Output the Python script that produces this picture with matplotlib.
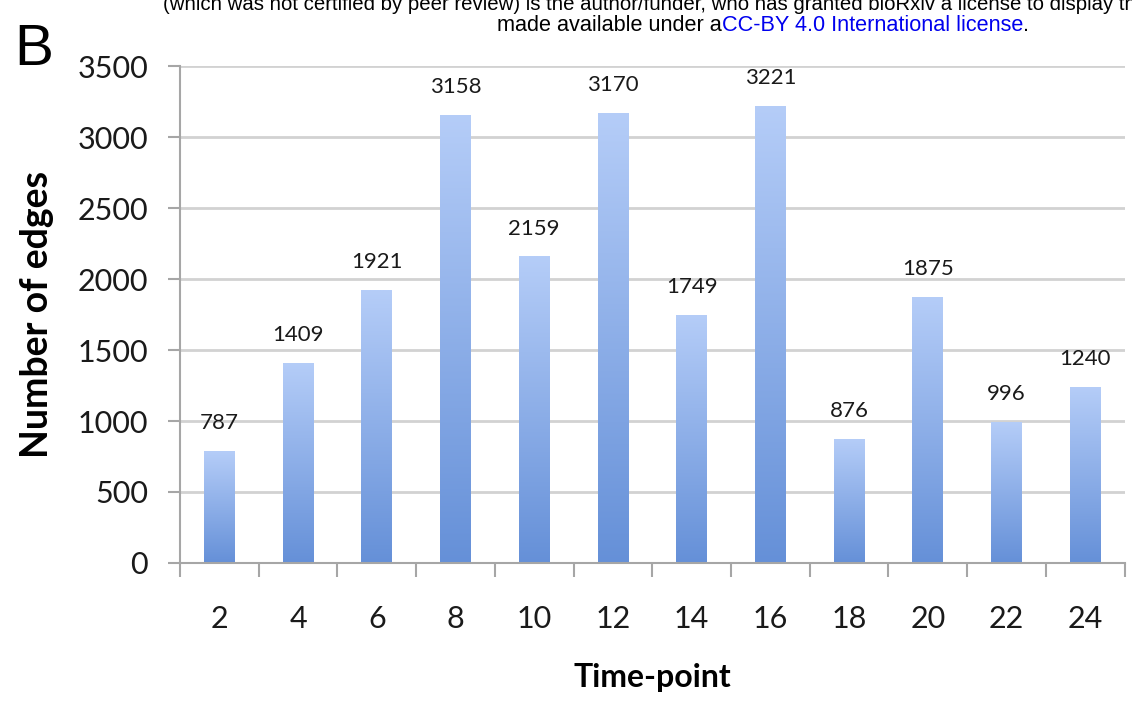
import numpy as np
import matplotlib
matplotlib.use("Agg")
import matplotlib.pyplot as plt
from matplotlib.colors import LinearSegmentedColormap

# --- data ---
time_points = ["2", "4", "6", "8", "10", "12", "14", "16", "18", "20", "22", "24"]
edge_counts = [787, 1409, 1921, 3158, 2159, 3170, 1749, 3221, 876, 1875, 996, 1240]

# vertical fill for each bar: darker at the base, pale at the top
bar_cmap = LinearSegmentedColormap.from_list("edges_blue", ["#6590d8", "#b5cdf8"])
grid_grey = "#d2d2d2"
axis_grey = "#a6a6a6"

LABEL_FONT = ["Lato", "DejaVu Sans"]
HDR_FONT = ["Liberation Sans", "DejaVu Sans"]

fig = plt.figure(figsize=(11.32, 7.18), dpi=100)
ax = fig.add_axes([0.159, 0.2159, 0.8345, 0.6921])

x = np.arange(len(time_points))
bars = ax.bar(x, edge_counts, width=0.39, color="none", edgecolor="none", zorder=2)

gradient = np.linspace(0, 1, 256).reshape(-1, 1)
for rect in bars:
    x0 = rect.get_x()
    x1 = x0 + rect.get_width()
    h = rect.get_height()
    im = ax.imshow(gradient, cmap=bar_cmap, origin="lower", aspect="auto",
                   extent=[x0, x1, 0, h], zorder=2, interpolation="bilinear")
    im.set_clip_path(rect)

# value labels above the bars
for xi, val in zip(x, edge_counts):
    ax.annotate(str(val), xy=(xi, val), xytext=(0, 20), textcoords="offset points",
                ha="center", va="center", fontsize=16, family=LABEL_FONT,
                color="#1a1a1a")

ax.set_xlim(-0.5, len(time_points) - 0.5)
ax.set_ylim(0, 3500)
ax.set_yticks(np.arange(0, 3501, 500))
ax.yaxis.grid(True, color=grid_grey, linewidth=2.0, zorder=0)
ax.set_axisbelow(True)

# category labels in the middle, boundary ticks between groups
ax.set_xticks(x)
ax.set_xticklabels(time_points)
ax.set_xticks(np.arange(-0.5, len(time_points)), minor=True)
ax.tick_params(axis="x", which="major", length=0, pad=30, labelsize=22)
ax.tick_params(axis="x", which="minor", length=10, width=1.5, color=axis_grey, direction="out")
ax.tick_params(axis="y", length=9, width=1.5, color=axis_grey, labelsize=22, pad=14)
for lbl in ax.get_xticklabels() + ax.get_yticklabels():
    lbl.set_family(LABEL_FONT)
    lbl.set_color("#1a1a1a")

for side in ["top", "right"]:
    ax.spines[side].set_visible(False)
for side in ["left", "bottom"]:
    ax.spines[side].set_color(axis_grey)
    ax.spines[side].set_linewidth(1.5)

ax.set_xlabel("Time-point", fontsize=23, fontweight="bold", family=LABEL_FONT, labelpad=22)
ax.set_ylabel("Number of edges", fontsize=27, fontweight="bold", family=LABEL_FONT, labelpad=17)

# panel letter
fig.text(0.013, 0.909, "B", fontsize=42, family=HDR_FONT, ha="left", va="baseline")

# preprint notice along the top edge
fig.text(0.144, 0.994, "(which was not certified by peer review) is the author/funder, "
         "who has granted bioRxiv a license to display the",
         fontsize=14.7, family=HDR_FONT, ha="left", va="center")
t1 = fig.text(0.439, 0.965, "made available under a", fontsize=15.6, family=HDR_FONT,
              ha="left", va="center")
t2 = ax.annotate("CC-BY 4.0 International license", xy=(1, 0), xycoords=t1,
                 ha="left", va="bottom", fontsize=15.6, family=HDR_FONT, color="#0000ee",
                 annotation_clip=False)
ax.annotate(".", xy=(1, 0), xycoords=t2, ha="left", va="bottom", fontsize=15.6,
            family=HDR_FONT, annotation_clip=False)

fig.savefig("out.png", dpi=100)
